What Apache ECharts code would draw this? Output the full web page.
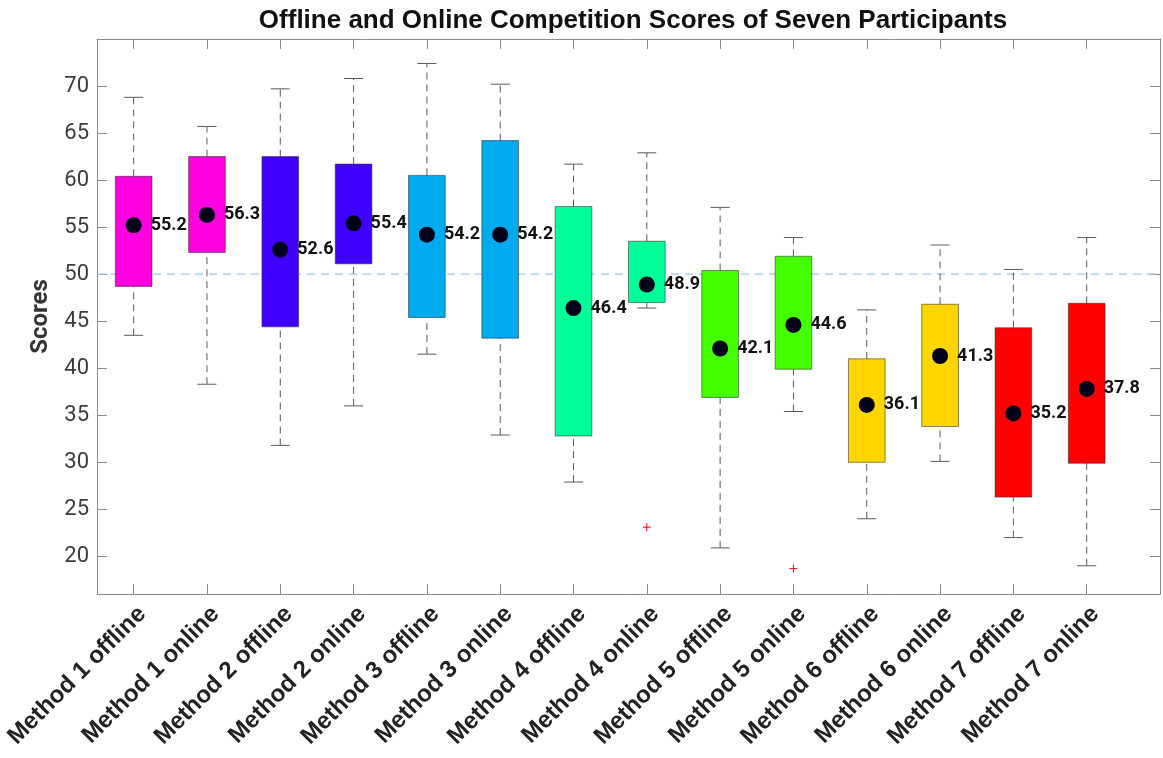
<!DOCTYPE html>
<html>
<head>
<meta charset="utf-8">
<script src="https://cdn.jsdelivr.net/npm/echarts@6/dist/echarts.min.js"></script>
<style>
  html, body { margin: 0; padding: 0; background: #fff; }
  #chart { width: 1163px; height: 758px; }
</style>
</head>
<body>
<div id="chart"></div>
<script>
// Score distributions per method and setting
const categories = [
  'Method 1 offline', 'Method 1 online', 'Method 2 offline', 'Method 2 online',
  'Method 3 offline', 'Method 3 online', 'Method 4 offline', 'Method 4 online',
  'Method 5 offline', 'Method 5 online', 'Method 6 offline', 'Method 6 online',
  'Method 7 offline', 'Method 7 online'
];
const whiskerLow  = [43.5, 38.3, 31.8, 36.0, 41.5, 32.9, 27.9, 46.4, 20.9, 35.4, 24.0, 30.1, 22.0, 19.0];
const boxLow      = [48.7, 52.3, 44.4, 51.1, 45.4, 43.2, 32.8, 47.0, 36.9, 39.9, 30.0, 33.8, 26.3, 29.9];
const boxHigh     = [60.4, 62.5, 62.5, 61.7, 60.5, 64.2, 57.2, 53.5, 50.4, 51.9, 41.0, 46.8, 44.3, 46.9];
const whiskerHigh = [68.8, 65.7, 69.7, 70.8, 72.4, 70.2, 61.7, 62.9, 57.1, 53.9, 46.2, 53.1, 50.5, 53.9];
const means       = [55.2, 56.3, 52.6, 55.4, 54.2, 54.2, 46.4, 48.9, 42.1, 44.6, 36.1, 41.3, 35.2, 37.8];
// Outliers as [category number, score]
const outliers = [[8, 23.1], [10, 18.7]];
const methodColors = ['#ff00e0', '#4000ff', '#00aaee', '#00ff99', '#44ff00', '#ffd500', '#ff0000'];
const yTicks = [20, 25, 30, 35, 40, 45, 50, 55, 60, 65, 70];
const referenceScore = 50;

const positions = categories.map((_, i) => i + 1);
const xMin = 0.5, xMax = 15;
const boxHalf = 0.25;
const capHalf = 0.13;

const chart = echarts.init(document.getElementById('chart'), null, { renderer: 'canvas' });

const frameColor = '#8a8a8a';
const tickLabelColor = '#3c3c3c';

const xAxisBase = {
  type: 'value', min: xMin, max: xMax,
  splitLine: { show: false },
  axisLine: { show: true, lineStyle: { color: frameColor, width: 1 } },
  axisTick: { show: true, inside: true, length: 10, customValues: positions, lineStyle: { color: frameColor } }
};
const yAxisBase = {
  type: 'value', min: 16, max: 75,
  splitLine: { show: false },
  axisLine: { show: true, lineStyle: { color: frameColor, width: 1 } },
  axisTick: { show: true, inside: true, length: 10, customValues: yTicks, lineStyle: { color: frameColor } }
};

const option = {
  backgroundColor: '#ffffff',
  animation: false,
  title: {
    text: 'Offline and Online Competition Scores of Seven Participants',
    left: '54%', textAlign: 'center', top: 3,
    textStyle: { fontFamily: 'Liberation Sans', fontWeight: 'bold', fontSize: 26, color: '#111' }
  },
  grid: { left: 97, right: 3, top: 39, bottom: 164, containLabel: false },
  xAxis: [
    Object.assign({}, xAxisBase, {
      position: 'bottom',
      axisLabel: {
        show: true, customValues: positions, rotate: 45, margin: 8,
        verticalAlign: 'top',
        formatter: v => categories[Math.round(v) - 1] || '',
        fontFamily: 'Liberation Sans', fontWeight: 'bold', fontSize: 24, color: '#222'
      }
    }),
    Object.assign({}, xAxisBase, { position: 'top', axisLabel: { show: false } })
  ],
  yAxis: [
    Object.assign({}, yAxisBase, {
      position: 'left',
      name: 'Scores', nameLocation: 'middle', nameGap: 42, nameRotate: 90,
      nameTextStyle: { fontFamily: 'Roboto', fontWeight: 'bold', fontSize: 24, color: '#333' },
      axisLabel: { show: true, customValues: yTicks, margin: 8, fontFamily: 'Roboto', fontSize: 22, color: tickLabelColor }
    }),
    Object.assign({}, yAxisBase, { position: 'right', axisLabel: { show: false } })
  ],
  series: [
    {
      // reference line at 50, behind everything else
      type: 'custom', z: 1,
      data: [[referenceScore]],
      renderItem: (params, api) => {
        const a = api.coord([xMin, api.value(0)]);
        const b = api.coord([xMax, api.value(0)]);
        return {
          type: 'line',
          shape: { x1: a[0], y1: a[1], x2: b[0], y2: b[1] },
          style: { stroke: '#9cc6e6', lineWidth: 1.2, lineDash: [8, 6] }
        };
      }
    },
    {
      // whiskers with end caps
      type: 'custom', z: 2,
      data: positions.map((p, i) => [p, whiskerLow[i], boxLow[i], boxHigh[i], whiskerHigh[i]]),
      renderItem: (params, api) => {
        const x = api.value(0);
        const lo = api.coord([x, api.value(1)]);
        const b0 = api.coord([x, api.value(2)]);
        const b1 = api.coord([x, api.value(3)]);
        const hi = api.coord([x, api.value(4)]);
        const capL = api.coord([x - capHalf, 0])[0];
        const capR = api.coord([x + capHalf, 0])[0];
        const dash = { stroke: '#5a5a5a', lineWidth: 1, lineDash: [7, 5] };
        const solid = { stroke: '#5a5a5a', lineWidth: 1 };
        return {
          type: 'group',
          children: [
            { type: 'line', shape: { x1: lo[0], y1: lo[1], x2: b0[0], y2: b0[1] }, style: dash },
            { type: 'line', shape: { x1: b1[0], y1: b1[1], x2: hi[0], y2: hi[1] }, style: dash },
            { type: 'line', shape: { x1: capL, y1: lo[1], x2: capR, y2: lo[1] }, style: solid },
            { type: 'line', shape: { x1: capL, y1: hi[1], x2: capR, y2: hi[1] }, style: solid }
          ]
        };
      }
    },
    {
      // interquartile boxes
      type: 'custom', z: 4,
      data: positions.map((p, i) => [p, boxLow[i], boxHigh[i]]),
      renderItem: (params, api) => {
        const x = api.value(0);
        const tl = api.coord([x - boxHalf, api.value(2)]);
        const br = api.coord([x + boxHalf, api.value(1)]);
        const color = methodColors[Math.floor(params.dataIndex / 2)];
        return {
          type: 'rect',
          shape: { x: tl[0], y: tl[1], width: br[0] - tl[0], height: br[1] - tl[1] },
          style: { fill: color, stroke: 'rgba(40,40,40,0.55)', lineWidth: 1 }
        };
      }
    },
    {
      // outliers
      type: 'custom', z: 5,
      data: outliers,
      renderItem: (params, api) => {
        const c = api.coord([api.value(0), api.value(1)]);
        const s = 4;
        const st = { stroke: '#ff0000', lineWidth: 1 };
        return {
          type: 'group',
          children: [
            { type: 'line', shape: { x1: c[0] - s, y1: c[1], x2: c[0] + s, y2: c[1] }, style: st },
            { type: 'line', shape: { x1: c[0], y1: c[1] - s, x2: c[0], y2: c[1] + s }, style: st }
          ]
        };
      }
    },
    {
      // means with value labels
      type: 'scatter', z: 6,
      symbol: 'circle', symbolSize: 16,
      itemStyle: { color: '#02021a', opacity: 1 },
      emphasis: { disabled: true },
      data: positions.map((p, i) => [p, means[i]]),
      label: {
        show: true, position: 'right', distance: 9,
        formatter: p => p.value[1].toFixed(1),
        fontFamily: 'Roboto', fontWeight: 'bold', fontSize: 18, color: '#111'
      }
    }
  ]
};

chart.setOption(option);
</script>
</body>
</html>
